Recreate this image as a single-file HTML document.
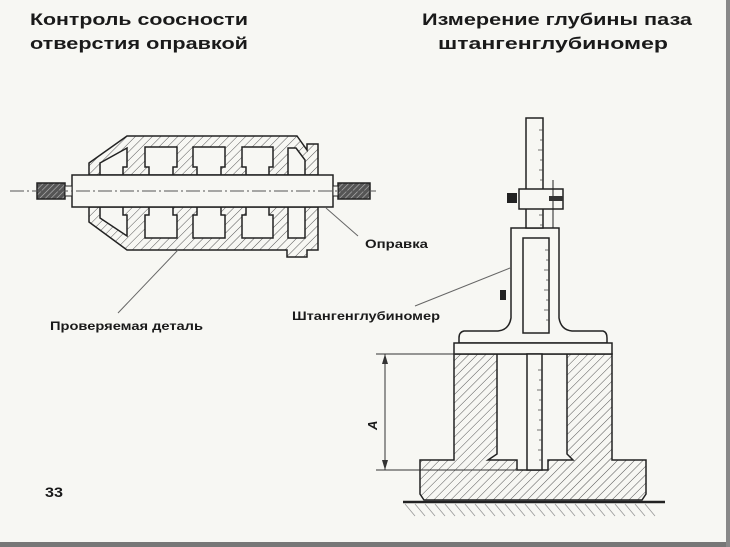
<!DOCTYPE html>
<html><head><meta charset="utf-8"><style>
html,body{margin:0;padding:0;background:#f7f7f3;}
svg{display:block}
text{font-family:"Liberation Sans",sans-serif;font-weight:bold;fill:#1a1a1a}
</style></head><body>
<svg width="730" height="547" viewBox="0 0 730 547" xmlns="http://www.w3.org/2000/svg">
<defs>
<pattern id="h" width="6" height="6" patternUnits="userSpaceOnUse" patternTransform="rotate(45)">
<rect width="6" height="6" fill="#f7f7f3"/><line x1="0" y1="0" x2="0" y2="6" stroke="#555" stroke-width="1"/></pattern>
<pattern id="k" width="4" height="4" patternUnits="userSpaceOnUse" patternTransform="rotate(45)">
<rect width="4" height="4" fill="#555"/><line x1="0" y1="0" x2="0" y2="4" stroke="#bbb" stroke-width="1.2"/></pattern>
</defs>
<rect width="730" height="547" fill="#f7f7f3"/>
<rect x="0" y="542" width="730" height="5" fill="#777"/>
<rect x="726" y="0" width="4" height="547" fill="#888"/>

<!-- titles -->
<text x="30" y="25" font-size="17" textLength="218" lengthAdjust="spacingAndGlyphs">Контроль соосности</text>
<text x="30" y="49" font-size="17" textLength="218" lengthAdjust="spacingAndGlyphs">отверстия оправкой</text>
<text x="422" y="25" font-size="17" textLength="270" lengthAdjust="spacingAndGlyphs">Измерение глубины паза</text>
<text x="438" y="49" font-size="17" textLength="230" lengthAdjust="spacingAndGlyphs">штангенглубиномер</text>
<text x="45" y="497" font-size="14" textLength="18" lengthAdjust="spacingAndGlyphs">33</text>

<!-- LEFT drawing -->
<g stroke="#222" stroke-width="1.5">
<path d="M127,136 L297,136 L307,150 L307,144 L318,144 L318,175 L89,175 L89,163 Z" fill="url(#h)"/>
<path d="M89,207 L318,207 L318,250 L307,250 L307,257 L287,257 L287,250 L127,250 L89,222 Z" fill="url(#h)"/>
<g fill="#f7f7f3">
<path d="M145,147 H177 V167 H173 V175 H149 V167 H145 Z"/>
<path d="M193,147 H225 V167 H221 V175 H197 V167 H193 Z"/>
<path d="M242,147 H273 V167 H269 V175 H246 V167 H242 Z"/>
<path d="M100,163 L127,148 V167 H123 V175 H100 Z"/>
<path d="M288,148 H296 L305,160 V175 H288 Z"/>
<path d="M149,207 H173 V215 H177 V238 H145 V215 H149 Z"/>
<path d="M197,207 H221 V215 H225 V238 H193 V215 H197 Z"/>
<path d="M246,207 H269 V215 H273 V238 H242 V215 H246 Z"/>
<path d="M100,207 H123 V215 H127 V236 L100,218 Z"/>
<path d="M288,207 H305 V238 H288 Z"/>
</g>
<rect x="72" y="175" width="261" height="32" fill="#f7f7f3"/>
<rect x="37" y="183" width="28" height="16" fill="url(#k)"/>
<rect x="338" y="183" width="32" height="16" fill="url(#k)"/>
<rect x="65" y="186" width="7" height="10" fill="#f7f7f3" stroke-width="1"/>
<rect x="333" y="186" width="5" height="10" fill="#f7f7f3" stroke-width="1"/>
</g>
<line x1="10" y1="191" x2="378" y2="191" stroke="#555" stroke-width="1" stroke-dasharray="14,3,2,3"/>
<line x1="178" y1="250" x2="118" y2="313" stroke="#666" stroke-width="1"/>
<line x1="326" y1="208" x2="358" y2="236" stroke="#666" stroke-width="1"/>
<text x="365" y="248" font-size="12" textLength="63" lengthAdjust="spacingAndGlyphs">Оправка</text>
<text x="50" y="330" font-size="12" textLength="153" lengthAdjust="spacingAndGlyphs">Проверяемая деталь</text>
<text x="292" y="320" font-size="12" textLength="148" lengthAdjust="spacingAndGlyphs">Штангенглубиномер</text>
<line x1="415" y1="306" x2="510" y2="268" stroke="#666" stroke-width="1"/>

<!-- RIGHT drawing -->
<g stroke="#222" stroke-width="1.5">
<!-- part -->
<path d="M454,354 H612 V460 H646 V494 L642,500 H424 L420,494 V460 H454 Z" fill="url(#h)"/>
<path d="M497,354 H567 V454 L573,460 H548 V470 H517 V460 H488 L497,454 Z" fill="#f7f7f3"/>
<!-- ground -->
<line x1="403" y1="502" x2="665" y2="502" stroke-width="2.5"/>
<!-- body -->
<path d="M511,228 H559 V318 Q561,330 572,331 H603 Q607,332 607,338 V343 H459 V338 Q459,332 464,331 H498 Q509,330 511,318 Z" fill="#f7f7f3"/>
<rect x="454" y="343" width="158" height="11" fill="#f7f7f3"/>
<rect x="523" y="238" width="26" height="95" fill="#f7f7f3"/>
<!-- beam -->
<rect x="526" y="118" width="17" height="110" fill="#f7f7f3"/>
<rect x="527" y="354" width="15" height="116" fill="#f7f7f3"/>
<rect x="519" y="189" width="44" height="20" fill="#f7f7f3"/>
<line x1="553" y1="180" x2="553" y2="228" stroke-width="1"/>
</g>
<rect x="507" y="193" width="10" height="10" fill="#222"/>
<rect x="549" y="196" width="14" height="5" fill="#333"/>
<rect x="500" y="290" width="6" height="10" fill="#222"/>
<g stroke="#444" stroke-width="0.8">
<path d="M543,130 h-4 M543,140 h-3 M543,150 h-5 M543,160 h-3 M543,170 h-4 M543,180 h-3 M543,215 h-4 M543,225 h-3"/>
<path d="M549,250 h-4 M549,260 h-3 M549,270 h-5 M549,280 h-3 M549,290 h-5 M549,300 h-3 M549,310 h-5 M549,320 h-3"/>
<path d="M542,370 h-4 M542,380 h-3 M542,390 h-5 M542,400 h-3 M542,410 h-4 M542,420 h-3 M542,430 h-5 M542,440 h-3 M542,450 h-4 M542,460 h-3"/>
</g>
<!-- ground hatch -->
<g stroke="#999" stroke-width="0.8">
<path d="M405,504 l10,12 M415,504 l10,12 M425,504 l10,12 M435,504 l10,12 M445,504 l10,12 M455,504 l10,12 M465,504 l10,12 M475,504 l10,12 M485,504 l10,12 M495,504 l10,12 M505,504 l10,12 M515,504 l10,12 M525,504 l10,12 M535,504 l10,12 M545,504 l10,12 M555,504 l10,12 M565,504 l10,12 M575,504 l10,12 M585,504 l10,12 M595,504 l10,12 M605,504 l10,12 M615,504 l10,12 M625,504 l10,12 M635,504 l10,12 M645,504 l10,12"/>
</g>
<!-- dimension -->
<g stroke="#333" stroke-width="1">
<line x1="376" y1="354" x2="455" y2="354"/>
<line x1="376" y1="470" x2="520" y2="470"/>
<line x1="385" y1="354" x2="385" y2="470"/>
</g>
<path d="M385,354 l-3,10 h6 Z M385,470 l-3,-10 h6 Z" fill="#333"/>
<text x="0" y="0" font-size="13" font-weight="normal" font-style="italic" transform="translate(377,430) rotate(-90)">A</text>
</svg>
</body></html>
